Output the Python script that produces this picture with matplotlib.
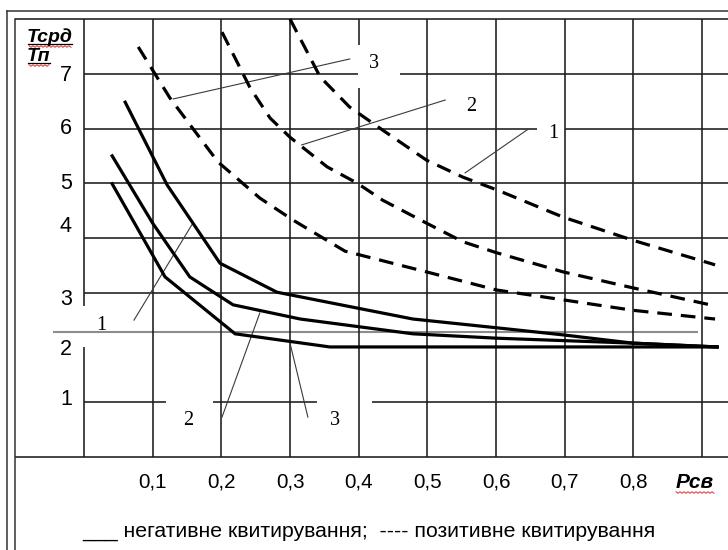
import matplotlib
matplotlib.use("Agg")
import matplotlib.pyplot as plt
from matplotlib.lines import Line2D
import numpy as np

plt.rcParams['font.family'] = ['Liberation Sans', 'DejaVu Sans']

# ---------------- data ----------------
x_ticks = [0.1, 0.2, 0.3, 0.4, 0.5, 0.6, 0.7, 0.8]
x_tick_labels = ['0,1', '0,2', '0,3', '0,4', '0,5', '0,6', '0,7', '0,8']
x_axis_title = 'Рсв'
x_grid_last = 0.9
y_ticks = [7, 6, 5, 4, 3, 2, 1]
y_tick_labels = ['7', '6', '5', '4', '3', '2', '1']
y_axis_title = ['Тсрд', 'Тп']

# negative acknowledgement (solid) curves 1, 2, 3
neg1_x = [0.060, 0.121, 0.198, 0.281, 0.398, 0.479, 0.601, 0.698, 0.799, 0.922]
neg1_y = [6.48, 4.97, 3.54, 3.01, 2.72, 2.52, 2.36, 2.23, 2.08, 2.01]
neg2_x = [0.041, 0.100, 0.154, 0.217, 0.315, 0.479, 0.601, 0.799, 0.922]
neg2_y = [5.50, 4.27, 3.29, 2.78, 2.52, 2.25, 2.17, 2.08, 2.01]
neg3_x = [0.041, 0.118, 0.220, 0.358, 0.922]
neg3_y = [4.99, 3.29, 2.25, 2.01, 2.01]

# positive acknowledgement (dashed) curves 1, 2, 3
pos1_x = [0.300, 0.344, 0.387, 0.435, 0.499, 0.552, 0.601, 0.698, 0.799, 0.919]
pos1_y = [8.00, 6.94, 6.39, 5.97, 5.42, 5.11, 4.88, 4.38, 3.96, 3.51]
pos2_x = [0.201, 0.242, 0.271, 0.300, 0.354, 0.398, 0.435, 0.499, 0.552, 0.601, 0.698, 0.799, 0.919]
pos2_y = [7.76, 6.74, 6.19, 5.84, 5.30, 5.00, 4.69, 4.27, 3.93, 3.73, 3.38, 3.09, 2.76]
pos3_x = [0.079, 0.125, 0.195, 0.256, 0.304, 0.380, 0.499, 0.601, 0.698, 0.799, 0.919]
pos3_y = [7.49, 6.56, 5.39, 4.73, 4.33, 3.76, 3.38, 3.05, 2.87, 2.68, 2.52]

curve_labels = ['1', '2', '3']
legend_text = '___ негативне квитирування;  ---- позитивне квитирування'

# ---------------- layout ----------------
W, H = 728, 550
fig = plt.figure(figsize=(W / 100, H / 100), dpi=100)
fig.patch.set_facecolor('white')

ax_l, ax_r, ax_t, ax_b = 84, 728, 19, 457
ax = fig.add_axes([ax_l / W, 1 - ax_b / H, (ax_r - ax_l) / W, (ax_b - ax_t) / H])
XMAX = (ax_r - ax_l) / 686.7
ax.set_xlim(0, XMAX)
ax.set_ylim(0, 8)
for s in ax.spines.values():
    s.set_visible(False)
ax.set_facecolor('none')

gc = '#1c1c1c'
glw = 1.15
XL = -69 / 686.7  # inner frame left edge in data units


def hseg(y, segs, **kw):
    for a, b in segs:
        ax.plot([a, b], [y, y], color=kw.get('color', gc), lw=kw.get('lw', glw),
                clip_on=False, zorder=1, solid_capstyle='butt')


def vseg(x, segs):
    for a, b in segs:
        ax.plot([x, x], [a, b], color=gc, lw=glw, clip_on=False, zorder=1,
                solid_capstyle='butt')


# horizontal grid lines (with gaps behind labels)
hseg(8, [(XL, XMAX)])
hseg(7, [(0, 0.399), (0.460, XMAX)])
hseg(6, [(0, 0.660), (0.700, XMAX)])
for yy in [5, 4, 3]:
    hseg(yy, [(0, XMAX)])
hseg(1, [(0, 0.119), (0.188, 0.339), (0.419, XMAX)])
hseg(0, [(XL, XMAX)])
hseg(2.29, [(-0.045, 0.894)], color='#8c8c8c', lw=1.5)

# vertical grid lines
vseg(0, [(0, 2.01), (2.76, 8)])
for xx in x_ticks + [x_grid_last]:
    if abs(xx - 0.4) < 1e-9:
        vseg(xx, [(0, 6.74), (7.53, 8)])
    else:
        vseg(xx, [(0, 8)])

# curves
solid_kw = dict(color='black', lw=2.3, solid_joinstyle='miter', zorder=4, clip_on=False)
dash_kw = dict(color='black', lw=2.3, linestyle=(0, (4.6, 2.8)), dash_capstyle='butt',
               zorder=4, clip_on=False)
for xs, ys in [(neg1_x, neg1_y), (neg2_x, neg2_y), (neg3_x, neg3_y)]:
    ax.plot(xs, ys, **solid_kw)
for xs, ys in [(pos1_x, pos1_y), (pos2_x, pos2_y), (pos3_x, pos3_y)]:
    ax.plot(xs, ys, **dash_kw)

# curve labels with pointer lines
pointer_kw = dict(color='#3a3a3a', lw=0.8, zorder=3, clip_on=False)
lab_kw = dict(fontsize=14.5, family=['Liberation Serif', 'DejaVu Serif'],
              ha='center', va='center', zorder=5)
# solid curves
ax.plot([0.0728, 0.157], [2.50, 4.24], **pointer_kw)
ax.plot([0.201, 0.256], [0.73, 2.63], **pointer_kw)
ax.plot([0.326, 0.300], [0.73, 2.08], **pointer_kw)
ax.text(0.025, 2.41, curve_labels[0], **lab_kw)
ax.text(0.151, 0.66, curve_labels[1], **lab_kw)
ax.text(0.366, 0.66, curve_labels[2], **lab_kw)
# dashed curves
ax.plot([0.387, 0.130], [7.27, 6.54], **pointer_kw)
ax.plot([0.526, 0.317], [6.52, 5.70], **pointer_kw)
ax.plot([0.647, 0.555], [5.99, 5.19], **pointer_kw)
ax.text(0.422, 7.18, curve_labels[2], **lab_kw)
ax.text(0.564, 6.41, curve_labels[1], **lab_kw)
ax.text(0.683, 5.90, curve_labels[0], **lab_kw)

# x tick labels
ax.set_xticks(x_ticks)
ax.set_xticklabels(x_tick_labels, fontsize=14.8)
ax.tick_params(axis='x', length=0, pad=11)
ax.set_yticks([])

# x-axis title in place of the last tick label
xtrans = ax.get_xaxis_transform()
ax.text(x_grid_last - 7 / 686.7, -26 / (ax_b - ax_t), x_axis_title, transform=xtrans,
        ha='center', va='center', fontsize=15, fontweight='bold', fontstyle='italic',
        clip_on=False)

# y tick labels (as text, small per-label offsets as in the original)
y_off_px = {7: -2, 6: 0, 5: 0, 4: 11, 3: -7, 2: -2, 1: 3}
ytrans = ax.get_yaxis_transform()
for v, lab in zip(y_ticks, y_tick_labels):
    ax.text(-12 / (ax_r - ax_l), v + y_off_px[v] / 54.75, lab, transform=ytrans,
            ha='right', va='center', fontsize=15.5, clip_on=False)

# y-axis title (two lines, underlined, bold italic)
fig.text(27 / W, 1 - 42 / H, y_axis_title[0], fontsize=14, fontweight='bold',
         fontstyle='italic', ha='left', va='baseline')
fig.text(27 / W, 1 - 61 / H, y_axis_title[1], fontsize=14, fontweight='bold',
         fontstyle='italic', ha='left', va='baseline')


def fig_line(xs, ys, **kw):
    fig.add_artist(Line2D([x / W for x in xs], [1 - y / H for y in ys],
                          transform=fig.transFigure, **kw))


fig_line([28, 72], [44, 44], color='black', lw=0.9)
fig_line([28, 50], [63, 63], color='black', lw=0.9)


def wavy(x0, x1, y):
    xs = np.arange(x0, x1 + 0.1, 2.0)
    ys = y + np.where(np.arange(len(xs)) % 2 == 0, -0.8, 0.8)
    fig_line(list(xs), list(ys), color='#e03030', lw=0.7)


wavy(29, 72, 46.5)
wavy(29, 50, 65.5)
wavy(676, 714, 492.5)

# double frame (outer and inner), open to the right and bottom
fig_line([7, 7], [11, H], color='#333333', lw=1.1)
fig_line([7, W], [11, 11], color='#333333', lw=1.1)
fig_line([15, 15], [19, H], color='#333333', lw=1.1)

# legend line
fig.text(82 / W, 1 - 537 / H, legend_text, fontsize=15.3, ha='left', va='baseline')

fig.savefig('out.png', dpi=100, facecolor='white')
